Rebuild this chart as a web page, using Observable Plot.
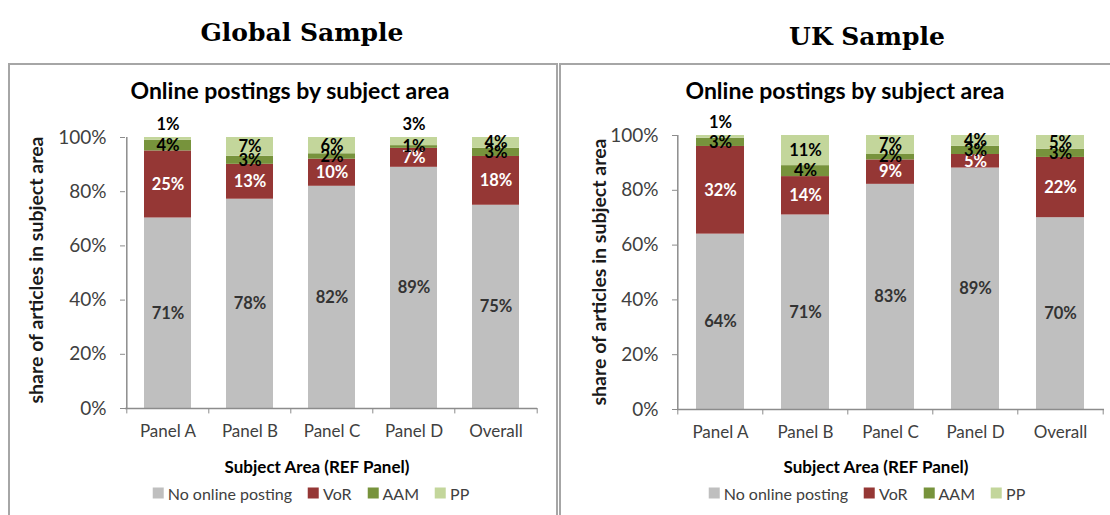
<!DOCTYPE html>
<html><head><meta charset="utf-8">
<script src="https://cdn.jsdelivr.net/npm/d3@7"></script>
<script src="https://cdn.jsdelivr.net/npm/@observablehq/plot@0.6"></script>
<style>
body{margin:0;background:#fff;width:1110px;height:515px;overflow:hidden;position:relative;font-family:Lato,sans-serif}
.heading{position:absolute;font-family:"DejaVu Serif",serif;font-weight:bold;font-size:25px;color:#000;transform:translate(-50%,-50%);white-space:nowrap}
.box{position:absolute;border:2px solid #a6a6a6;border-bottom:none;height:500px}
.title{position:absolute;font-weight:bold;font-size:23px;color:#000;transform:translate(-50%,-50%);white-space:nowrap}
.xlabel{position:absolute;font-weight:bold;font-size:17px;color:#000;transform:translate(-50%,-50%);white-space:nowrap}
.ylabel{position:absolute;font-weight:bold;font-size:19.5px;color:#1a1a1a;transform:translate(-50%,-50%) rotate(-90deg);white-space:nowrap}
.leg{position:absolute;transform:translate(-50%,-50%);white-space:nowrap;width:max-content}
.leg div{flex-wrap:nowrap !important}
.lg-swatch{margin-right:16px !important}
.lg-swatch > svg{margin-right:4px !important}
.plotwrap{position:absolute}
</style>
</head><body>
<script>
const categories = ["Panel A", "Panel B", "Panel C", "Panel D", "Overall"];
const series = ["No online posting", "VoR", "AAM", "PP"];
const colors = ["#BFBFBF", "#953735", "#77933C", "#C3D69B"];
const labelColors = ["#333333", "#ffffff", "#000000", "#000000"];

// Global sample
const globalNone = [71, 78, 82, 89, 75];
const globalVoR  = [25, 13, 10, 7, 18];
const globalAAM  = [4, 3, 2, 1, 3];
const globalPP   = [1, 7, 6, 3, 4];

// UK sample
const ukNone = [64, 71, 83, 89, 70];
const ukVoR  = [32, 14, 9, 5, 22];
const ukAAM  = [3, 4, 2, 3, 3];
const ukPP   = [1, 11, 7, 4, 5];

const headingTexts = ["Global Sample", "UK Sample"];
const chartTitle = "Online postings by subject area";
const xTitle = "Subject Area (REF Panel)";
const yTitle = "share of articles in subject area";
const yTicks = [0, 0.2, 0.4, 0.6, 0.8, 1];

function el(cls, text, x, y) {
  const d = document.createElement("div");
  d.className = cls;
  if (text != null) d.textContent = text;
  d.style.left = x + "px";
  d.style.top = y + "px";
  document.body.appendChild(d);
  return d;
}

function makeChart(values, cfg) {
  const rows = categories.flatMap((c, i) =>
    series.map((s, j) => ({category: c, series: s, value: values[j][i]})));
  const step = (cfg.width - cfg.ml - cfg.mr) / categories.length;
  const isSmallTop = d => d.series === "PP" && d.value <= 3;
  const stackOpts = {x: "category", y: "value", z: "series", order: series, offset: "normalize"};

  const labelMarks = series.map((s, j) =>
    Plot.text(rows, Plot.stackY({
      ...stackOpts,
      text: d => (d.series === s && !isSmallTop(d)) ? d.value + "%" : null,
      fill: labelColors[j],
      fontWeight: "bold",
      fontSize: 16.5
    })));

  const plot = Plot.plot({
    width: cfg.width,
    height: cfg.height,
    marginLeft: cfg.ml,
    marginRight: cfg.mr,
    marginTop: cfg.mt,
    marginBottom: cfg.mb,
    style: {fontFamily: "Lato, sans-serif", background: "transparent", overflow: "visible"},
    x: {type: "band", domain: categories, paddingInner: 0.43, paddingOuter: 0.215, align: 0.5},
    y: {domain: [0, 1]},
    color: {domain: series, range: colors},
    marks: [
      Plot.barY(rows, Plot.stackY({...stackOpts, fill: "series"})),
      ...labelMarks,
      Plot.text(rows.filter(isSmallTop), {
        x: "category", y: () => 1, dy: -13, text: d => d.value + "%",
        fill: "#000", fontWeight: "bold", fontSize: 16.5
      }),
      Plot.ruleY([0], {stroke: "#8c8c8c", strokeWidth: 1.5}),
      Plot.ruleX([categories[0]], {x: d => d, dx: -step / 2, y1: 0, y2: 1, stroke: "#8c8c8c", strokeWidth: 1.5}),
      Plot.ruleX(categories, {x: d => d, dx: -step / 2, y1: 0, y2: -0.02, stroke: "#8c8c8c"}),
      Plot.ruleX([categories[categories.length - 1]], {x: d => d, dx: step / 2, y1: 0, y2: -0.02, stroke: "#8c8c8c"}),
      Plot.axisY({ticks: yTicks, tickFormat: d3.format(".0%"), tickSize: 5, tickPadding: 14,
        stroke: "#8c8c8c", fill: "#404040", fontSize: 19, label: null}),
      Plot.axisX({tickSize: 0, tickPadding: 16, fill: "#404040", fontSize: 17, label: null})
    ]
  });
  const wrap = el("plotwrap", null, cfg.left, cfg.top);
  wrap.appendChild(plot);

  const legend = Plot.legend({
    color: {domain: series, range: colors},
    swatchSize: 11,
    className: "lg",
    style: {fontFamily: "Lato, sans-serif", fontSize: "16px", color: "#404040"}
  });
  const lw = el("leg", null, cfg.legendX, cfg.legendY);
  lw.appendChild(legend);
}

// Left: Global
el("heading", headingTexts[0], 302, 32);
const boxL = el("box", null, 8, 63); boxL.style.width = "546px";
el("title", chartTitle, 290, 90);
el("ylabel", yTitle, 35, 270);
el("xlabel", xTitle, 317, 466);
makeChart([globalNone, globalVoR, globalAAM, globalPP],
  {left: 0, top: 100, width: 555, height: 350, ml: 125, mr: 18, mt: 37, mb: 42, legendX: 319, legendY: 497});

// Right: UK
el("heading", headingTexts[1], 867, 36);
const boxR = el("box", null, 559, 63); boxR.style.width = "560px";
el("title", chartTitle, 845, 90);
el("ylabel", yTitle, 598, 272);
el("xlabel", xTitle, 876, 466);
makeChart([ukNone, ukVoR, ukAAM, ukPP],
  {left: 555, top: 100, width: 555, height: 350, ml: 122, mr: 6, mt: 35, mb: 41, legendX: 875, legendY: 497});
</script>
</body></html>
